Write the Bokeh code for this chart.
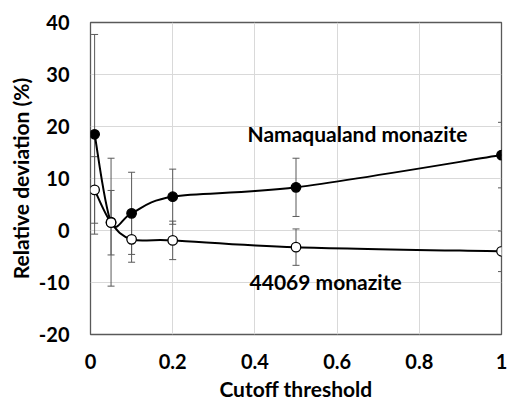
from bokeh.plotting import figure
from bokeh.models import ColumnDataSource, Whisker, TeeHead, Range1d, FixedTicker, Label
from bokeh.embed import file_html
from bokeh.resources import INLINE

# ---- data ----
cutoff = [0.01, 0.05, 0.1, 0.2, 0.5, 1.0]
nama_dev = [18.5, 1.6, 3.3, 6.5, 8.3, 14.5]
nama_err = [19.2, 12.3, 7.9, 5.3, 5.6, 6.3]
m44069_dev = [7.8, 1.5, -1.7, -1.9, -3.2, -4.0]
m44069_err = [6.4, 6.2, 4.4, 3.7, 3.5, 3.9]

x_ticks = [0, 0.2, 0.4, 0.6, 0.8, 1.0]
x_tick_labels = ["0", "0.2", "0.4", "0.6", "0.8", "1"]
y_ticks = [-20, -10, 0, 10, 20, 30, 40]
y_tick_labels = ["-20", "-10", "0", "10", "20", "30", "40"]
x_title = "Cutoff threshold"
y_title = "Relative deviation (%)"

FONT = "Lato"

p = figure(width=507, height=404, output_backend="svg", toolbar_location=None,
           x_range=Range1d(0, 1), y_range=Range1d(-20, 40),
           min_border_left=90, min_border_right=6, min_border_top=22, min_border_bottom=70)
p.background_fill_color = "white"
p.border_fill_color = "white"
p.outline_line_color = "#595959"
p.outline_line_width = 1.3

for ax in (p.xaxis, p.yaxis):
    ax.axis_line_color = None
    ax.major_tick_line_color = None
    ax.minor_tick_line_color = None
    ax.major_tick_out = 0
    ax.major_tick_in = 0
    ax.major_label_text_font = FONT
    ax.major_label_text_font_style = "bold"
    ax.major_label_text_font_size = "20px"
    ax.major_label_text_color = "black"
    ax.axis_label_text_font = FONT
    ax.axis_label_text_font_style = "bold"
    ax.axis_label_text_font_size = "21px"
    ax.axis_label_text_color = "black"

p.xaxis.ticker = FixedTicker(ticks=x_ticks)
p.xaxis.major_label_overrides = dict(zip(x_ticks, x_tick_labels))
p.yaxis.ticker = FixedTicker(ticks=y_ticks)
p.yaxis.major_label_overrides = dict(zip(y_ticks, y_tick_labels))
p.xaxis.axis_label = x_title
p.yaxis.axis_label = y_title
p.xaxis.major_label_standoff = 19
p.yaxis.major_label_standoff = 21
p.xaxis.axis_label_standoff = 4
p.yaxis.axis_label_standoff = 3

p.xgrid.grid_line_color = "#d9d9d9"
p.ygrid.grid_line_color = "#d9d9d9"
p.xgrid.grid_line_width = 1
p.ygrid.grid_line_width = 1


def smooth_segments(xs, ys):
    n = len(xs)
    x0, y0, x1, y1, cx0, cy0, cx1, cy1 = ([] for _ in range(8))
    for i in range(n - 1):
        a = max(i - 1, 0)
        b = min(i + 2, n - 1)
        x0.append(xs[i]); y0.append(ys[i])
        x1.append(xs[i + 1]); y1.append(ys[i + 1])
        cx0.append(xs[i] + (xs[i + 1] - xs[a]) / 6)
        cy0.append(ys[i] + (ys[i + 1] - ys[a]) / 6)
        cx1.append(xs[i + 1] - (xs[b] - xs[i]) / 6)
        cy1.append(ys[i + 1] - (ys[b] - ys[i]) / 6)
    return dict(x0=x0, y0=y0, x1=x1, y1=y1, cx0=cx0, cy0=cy0, cx1=cx1, cy1=cy1)


for dev, err in ((nama_dev, nama_err), (m44069_dev, m44069_err)):
    src = ColumnDataSource(dict(x=cutoff, y=dev,
                                lo=[d - e for d, e in zip(dev, err)],
                                hi=[d + e for d, e in zip(dev, err)]))
    w = Whisker(base="x", lower="lo", upper="hi", source=src,
                line_color="#595959", line_width=1,
                lower_head=TeeHead(size=7, line_color="#595959", line_width=1),
                upper_head=TeeHead(size=7, line_color="#595959", line_width=1))
    p.add_layout(w)

for dev in (nama_dev, m44069_dev):
    seg = ColumnDataSource(smooth_segments(cutoff, dev))
    p.bezier(x0="x0", y0="y0", x1="x1", y1="y1", cx0="cx0", cy0="cy0",
             cx1="cx1", cy1="cy1", source=seg, line_color="black", line_width=2)

for dev, fill in ((nama_dev, "black"), (m44069_dev, "white")):
    p.scatter(cutoff, dev, size=9.5, fill_color=fill, line_color="black", line_width=1.3)

p.add_layout(Label(x=0.382, y=18.6, text="Namaqualand monazite", text_font=FONT,
                   text_font_style="bold", text_font_size="21px", text_baseline="middle",
                   text_color="black"))
p.add_layout(Label(x=0.387, y=-9.9, text="44069 monazite", text_font=FONT,
                   text_font_style="bold", text_font_size="21px", text_baseline="middle",
                   text_color="black"))

open("out.html", "w").write(file_html(p, INLINE))
